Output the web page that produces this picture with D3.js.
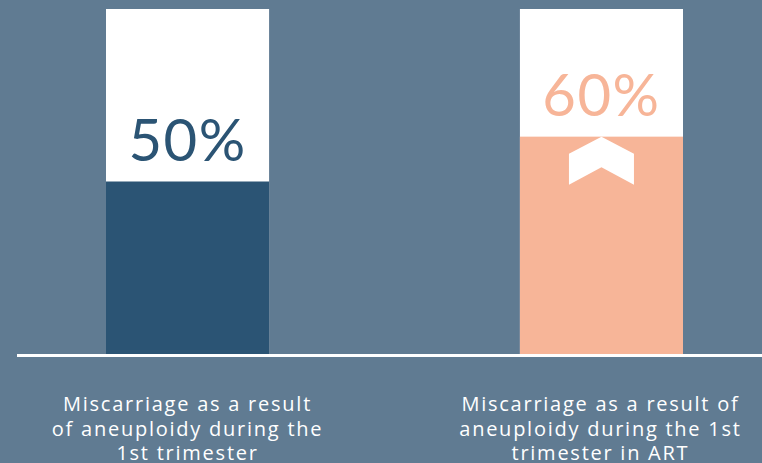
<!DOCTYPE html>
<html><head><meta charset="utf-8">
<script src="https://cdn.jsdelivr.net/npm/d3@7"></script>
<style>html,body{margin:0;padding:0;background:#607b92;}svg{display:block;}</style>
</head><body>
<svg id="c" width="762" height="463"></svg>
<script>
const categories = ["art0", "art1"];
const fillValues = [50, 63];
const valueLabels = ["50%", "60%"];
const categoryLines = [
  ["Miscarriage as a result", "of aneuploidy during the", "1st trimester"],
  ["Miscarriage as a result of", "aneuploidy during the 1st", "trimester in ART"]
];
const fillColors = ["#2b5474", "#f7b598"];

const svg = d3.select("#c");
const W = 762, H = 463;
svg.append("rect").attr("width", W).attr("height", H).attr("fill", "#607b92");

const x = d3.scaleBand().domain(categories).range([106, 683]).paddingInner(0.606).paddingOuter(0);
const y = d3.scaleLinear().domain([0, 100]).range([354, 9]);

const g = svg.append("g");
const bars = g.selectAll("g.bar").data(categories).join("g").attr("class", "bar");

bars.append("rect")
  .attr("x", d => x(d)).attr("width", x.bandwidth())
  .attr("y", y(100)).attr("height", y(0) - y(100))
  .attr("fill", "#ffffff");

bars.append("rect")
  .attr("x", d => x(d)).attr("width", x.bandwidth())
  .attr("y", (d, i) => y(fillValues[i])).attr("height", (d, i) => y(0) - y(fillValues[i]))
  .attr("fill", (d, i) => fillColors[i]);

// value labels
bars.append("text")
  .attr("x", d => x(d) + x.bandwidth() / 2)
  .attr("y", (d, i) => y(fillValues[i]) - 21)
  .attr("text-anchor", "middle")
  .attr("font-family", "Lato, 'Open Sans', sans-serif")
  .attr("font-size", 58)
  .attr("letter-spacing", 1.5)
  .attr("fill", (d, i) => fillColors[i])
  .text((d, i) => valueLabels[i]);

// chevron on second bar
const cx = x(categories[1]) + x.bandwidth() / 2;
const ty = y(fillValues[1]);
g.append("path")
  .attr("d", `M${cx},${ty} L${cx + 32.5},${ty + 17} L${cx + 32.5},${ty + 48} L${cx},${ty + 30.5} L${cx - 32.5},${ty + 48} L${cx - 32.5},${ty + 17} Z`)
  .attr("fill", "#ffffff");

// baseline
svg.append("line").attr("x1", 17).attr("x2", W).attr("y1", 355.5).attr("y2", 355.5)
  .attr("stroke", "#ffffff").attr("stroke-width", 3);

// category labels
const targetFirstLineWidth = [249, 278];
const lab = svg.selectAll("text.cat").data(categories).join("text").attr("class", "cat")
  .attr("text-anchor", "middle")
  .attr("font-family", "'Open Sans', sans-serif")
  .attr("font-size", 20)
  .attr("fill", "#ffffff");
lab.each(function(d, i) {
  const t = d3.select(this);
  const spans = categoryLines[i].map((line, j) =>
    t.append("tspan").attr("x", x(d) + x.bandwidth() / 2 + (i === 1 ? -1 : 0)).attr("y", 411 + j * 24.5).text(line));
  const w0 = spans[0].node().getComputedTextLength();
  const ls = (targetFirstLineWidth[i] - w0) / categoryLines[i][0].length;
  t.attr("letter-spacing", ls);
});
</script>
</body></html>
